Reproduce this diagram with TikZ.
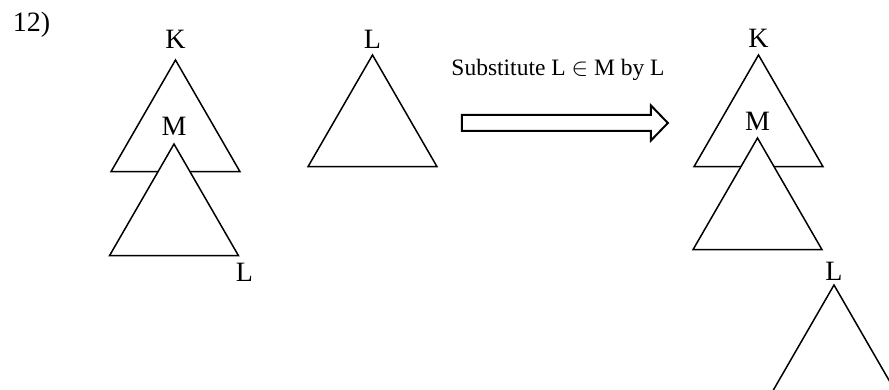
\documentclass[tikz,border=0pt]{standalone}
\usepackage{fontspec}
\setmainfont{Liberation Serif}
\usetikzlibrary{shapes.geometric, shapes.arrows, positioning}

\begin{document}
\begin{tikzpicture}[
    x=1pt, y=-1pt,
    tri/.style={draw, regular polygon, regular polygon sides=3,
      minimum size=149pt, inner sep=0pt, outer sep=0pt, line width=1.5pt},
    lbl/.style={inner sep=0pt, font=\fontsize{28}{30}\selectfont},
    fatarrow/.style={draw, single arrow, line width=2pt, inner sep=7pt,
      minimum height=206pt, single arrow head extend=9.5pt,
      single arrow tip angle=92},
    subst/.style={inner sep=0pt, font=\fontsize{23.5}{25}\selectfont}
]
\clip (0,0) rectangle (889,390);
\useasboundingbox (0,0) rectangle (889,390);

\node[lbl] (num) at (31.5,25) {12)};

% left: K with M inside
\node[tri] (Ktri) at (175.5,134.5) {};
\node[tri, fill=white] (Mtri) at (174,218.5) {};
\node[lbl, above=11pt of Ktri.corner 1] (Klbl) {K};
\node[lbl, above=8pt of Mtri.corner 1] (Mlbl) {M};
\node[lbl, below=7pt of Mtri.corner 3, xshift=6pt] (Llbl) {L};

% middle: L
\node[tri] (Ltri) at (372.5,129.5) {};
\node[lbl, above=6pt of Ltri.corner 1] (Ltop) {L};

% arrow
\node[fatarrow] (subarrow) at (561,123) {};
\node[subst] (sublbl) at (558,70) {Substitute L $\in$ M by L};

% right: result
\node[tri] (Kres) at (758.5,129.5) {};
\node[tri, fill=white] (Mres) at (757.5,212.5) {};
\node[tri] (Lres) at (834,359.5) {};
\node[lbl, above=7pt of Kres.corner 1] (Kreslbl) {K};
\node[lbl, above=7pt of Mres.corner 1] (Mreslbl) {M};
\node[lbl, above=4pt of Lres.corner 1] (Lreslbl) {L};
\end{tikzpicture}
\end{document}
